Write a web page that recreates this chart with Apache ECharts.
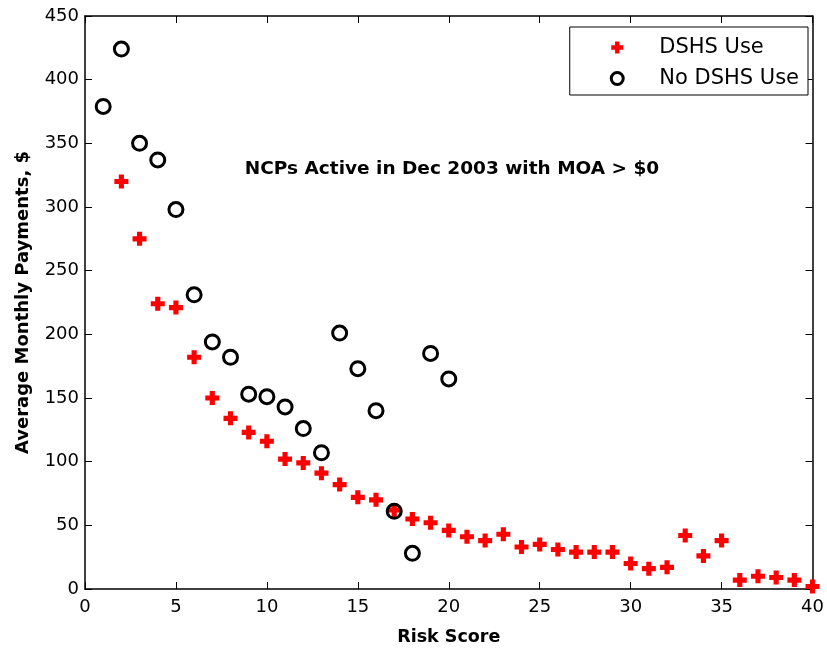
<!DOCTYPE html>
<html><head><meta charset="utf-8">
<script src="https://cdn.jsdelivr.net/npm/echarts@6/dist/echarts.min.js"></script>
<style>html,body{margin:0;padding:0;background:#fff}#c{width:827px;height:651px}</style>
</head><body><div id="c"></div>
<script>
const dshsX = [2,3,4,5,6,7,8,9,10,11,12,13,14,15,16,17,18,19,20,21,22,23,24,25,26,27,28,29,30,31,32,33,34,35,36,37,38,39,40];
const dshsY = [320,275,224,221,182,150,134,123,116,102,99,91,82,72,70,62,55,52,46,41,38,43,33,35,31,29,29,29,20,16,17,42,26,38,7,10,9,7,2];
const noX = [1,2,3,4,5,6,7,8,9,10,11,12,13,14,15,16,17,18,19,20];
const noY = [379,424,350,337,298,231,194,182,153,151,143,126,107,201,173,140,61,28,185,165];
const seriesNames = ['DSHS Use','No DSHS Use'];
const titleText = 'NCPs Active in Dec 2003 with MOA > $0';
const xName = 'Risk Score';
const yName = 'Average Monthly Payments, $';

const FONT = '"DejaVu Sans", "Liberation Sans", Arial, sans-serif';
const plusPath = 'path://M-1.1,-3 L1.1,-3 L1.1,-1.1 L3,-1.1 L3,1.1 L1.1,1.1 L1.1,3 L-1.1,3 L-1.1,1.1 L-3,1.1 L-3,-1.1 L-1.1,-1.1 Z';

const chart = echarts.init(document.getElementById('c'), null, {renderer:'canvas'});
const axisCommon = {
  axisLine:{show:true, onZero:false, lineStyle:{color:'#000', width:1.5}},
  axisTick:{show:true, inside:true, length:7, lineStyle:{color:'#000', width:1}},
  splitLine:{show:false}
};
chart.setOption({
  animation:false,
  backgroundColor:'#fff',
  grid:{left:85, right:10, top:16, bottom:61, containLabel:false},
  title:{text:titleText, left:447, top:155, textAlign:'center',
    textStyle:{fontFamily:FONT, fontSize:18.5, fontWeight:'bold', color:'#000'}},
  legend:{
    orient:'vertical', right:19, top:27,
    data:[
      {name:seriesNames[0], itemStyle:{color:'#ff0000'}},
      {name:seriesNames[1], itemStyle:{color:'rgba(255,255,255,0)', borderColor:'#000', borderWidth:3}}
    ],
    backgroundColor:'#fff', borderColor:'#000', borderWidth:1,
    padding:[10,9,6,40], itemGap:10, itemWidth:12, itemHeight:12,
    textStyle:{fontFamily:FONT, fontSize:21, color:'#000', padding:[0,0,0,31]}
  },
  xAxis:[
    Object.assign({type:'value', min:0, max:40, interval:5, position:'bottom',
      name:xName, nameLocation:'middle', nameGap:39,
      nameTextStyle:{fontFamily:FONT, fontSize:17.5, fontWeight:'bold', color:'#000'},
      axisLabel:{fontFamily:FONT, fontSize:18, color:'#000', margin:9}}, axisCommon),
    Object.assign({type:'value', min:0, max:40, interval:5, position:'top',
      axisLabel:{show:false}}, axisCommon)
  ],
  yAxis:[
    Object.assign({type:'value', min:0, max:450, interval:50, position:'left',
      name:yName, nameLocation:'middle', nameGap:53,
      nameTextStyle:{fontFamily:FONT, fontSize:18, fontWeight:'bold', color:'#000'},
      axisLabel:{fontFamily:FONT, fontSize:18, color:'#000', margin:6}}, axisCommon),
    Object.assign({type:'value', min:0, max:450, interval:50, position:'right',
      axisLabel:{show:false}}, axisCommon)
  ],
  series:[
    {name:seriesNames[0], type:'scatter', symbol:plusPath, symbolSize:14,
     itemStyle:{color:'#ff0000', opacity:1}, z:2,
     data:dshsX.map((x,i)=>[x,dshsY[i]])},
    {name:seriesNames[1], type:'scatter', symbol:'circle', symbolSize:14,
     itemStyle:{color:'rgba(255,255,255,0)', borderColor:'#000', borderWidth:3, opacity:1}, z:3,
     data:noX.map((x,i)=>[x,noY[i]])}
  ]
});
</script></body></html>
